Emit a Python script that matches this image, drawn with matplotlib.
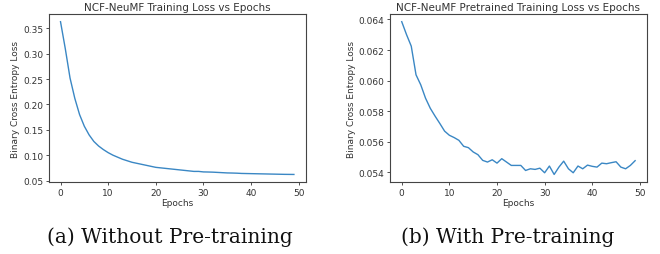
import numpy as np
import matplotlib.pyplot as plt

epochs = np.arange(50)

# loss without pre-training
loss_plain = [0.363, 0.310, 0.252, 0.212, 0.180, 0.157, 0.140, 0.127, 0.118, 0.111,
              0.105, 0.100, 0.096, 0.092, 0.089, 0.086, 0.084, 0.082, 0.080, 0.078,
              0.076, 0.075, 0.074, 0.073, 0.072, 0.071, 0.070, 0.069, 0.068, 0.068,
              0.067, 0.0668, 0.0665, 0.066, 0.0655, 0.065, 0.0648, 0.0645, 0.064, 0.0638,
              0.0636, 0.0634, 0.0632, 0.063, 0.0628, 0.0626, 0.0624, 0.0622, 0.0621, 0.062]

# loss with pre-training
loss_pre = [0.06385, 0.06301, 0.06225, 0.06038, 0.05972, 0.05885, 0.05819, 0.05768, 0.05720, 0.05670,
            0.05643, 0.05628, 0.05610, 0.05571, 0.05562, 0.05534, 0.05516, 0.05479, 0.05468, 0.05483,
            0.05461, 0.05490, 0.05468, 0.05446, 0.05446, 0.05446, 0.05413, 0.05424, 0.05420, 0.05428,
            0.05398, 0.05442, 0.05387, 0.05435, 0.05474, 0.05424, 0.05398, 0.05442, 0.05424, 0.05448,
            0.05440, 0.05435, 0.05461, 0.05457, 0.05464, 0.05470, 0.05435, 0.05424, 0.05446, 0.05477]

titles = ["NCF-NeuMF Training Loss vs Epochs", "NCF-NeuMF Pretrained Training Loss vs Epochs"]
captions = ["(a) Without Pre-training", "(b) With Pre-training"]
caption_x = [170 / 660, 508 / 660]

fig = plt.figure(figsize=(6.6, 2.55), dpi=100)
ax1 = fig.add_axes([0.074, 0.282, 0.389, 0.659])
ax2 = fig.add_axes([0.591, 0.282, 0.389, 0.659])

for ax, loss, title, cap, cx in zip([ax1, ax2], [loss_plain, loss_pre], titles, captions, caption_x):
    ax.plot(epochs, loss, color='#3a87c4', lw=1.0)
    ax.set_title(title, fontsize=7.5, color='#333333', pad=3)
    ax.set_xlabel("Epochs", fontsize=6.5, color='#333333', labelpad=1)
    ax.set_ylabel("Binary Cross Entropy Loss", fontsize=6.5, color='#333333', labelpad=2)
    ax.tick_params(labelsize=6.5, length=2.5, width=0.6, pad=1.5, colors='#333333')
    ax.set_xticks([0, 10, 20, 30, 40, 50])
    for s in ax.spines.values():
        s.set_color('#444444')
        s.set_linewidth(0.8)
    fig.text(cx, 0.071, cap, ha='center', va='center',
             fontsize=14.5, family='DejaVu Serif', color='#111111')

ax1.set_yticks([0.05, 0.10, 0.15, 0.20, 0.25, 0.30, 0.35])
ax1.set_yticklabels(['0.05', '0.10', '0.15', '0.20', '0.25', '0.30', '0.35'])
ax2.set_yticks([0.054, 0.056, 0.058, 0.060, 0.062, 0.064])

fig.savefig("out.png", dpi=100)
